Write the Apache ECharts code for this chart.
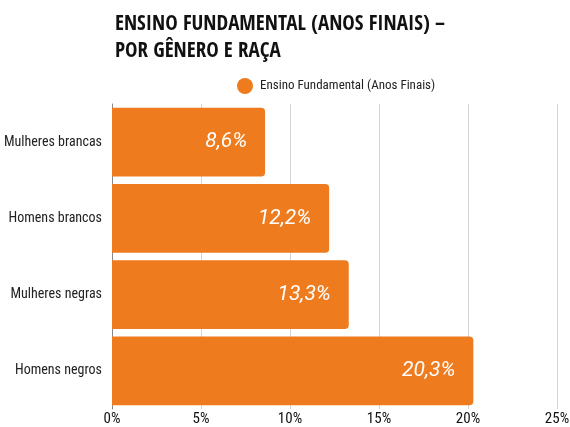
<!DOCTYPE html>
<html>
<head>
<meta charset="utf-8">
<script src="https://cdn.jsdelivr.net/npm/echarts@6/dist/echarts.min.js"></script>
<style>
html, body { margin: 0; padding: 0; background: #fff; }
#chart { width: 570px; height: 427px; }
</style>
</head>
<body>
<div id="chart"></div>
<script>
const categories = ['Mulheres brancas', 'Homens brancos', 'Mulheres negras', 'Homens negros']
const values = [8.6, 12.2, 13.3, 20.3]
const seriesName = 'Ensino Fundamental (Anos Finais)'
const xTicks = [0, 5, 10, 15, 20, 25]

const titleFont = '"Open Sans Condensed", "Roboto Condensed", sans-serif'
const narrow = '"Roboto Condensed", "Open Sans Condensed", sans-serif'

const chart = echarts.init(document.getElementById('chart'))
chart.setOption({
    animation: false,
    title: {
        text: 'ENSINO FUNDAMENTAL (ANOS FINAIS) –\nPOR GÊNERO E RAÇA',
        left: 110,
        top: 6,
        textStyle: {
            fontFamily: titleFont,
            fontWeight: 'bold',
            fontSize: 21,
            lineHeight: 27,
            color: '#111'
        }
    },
    legend: {
        data: [seriesName],
        left: 232,
        top: 73,
        icon: 'circle',
        itemWidth: 16,
        itemHeight: 16,
        itemGap: 6,
        textStyle: {
            fontFamily: narrow,
            fontSize: 13,
            color: '#222',
            padding: [0, 0, 0, 2]
        }
    },
    grid: {
        left: 112,
        right: 13,
        top: 104,
        bottom: 18,
        outerBoundsMode: 'none'
    },
    xAxis: {
        type: 'value',
        min: xTicks[0],
        max: xTicks[xTicks.length - 1],
        interval: 5,
        axisLine: { show: false },
        axisTick: { show: false },
        splitLine: { lineStyle: { color: '#d4d4d4', width: 1 } },
        axisLabel: {
            formatter: '{value}%',
            fontFamily: narrow,
            fontSize: 15,
            color: '#111',
            margin: 3
        }
    },
    yAxis: {
        type: 'category',
        inverse: true,
        data: categories,
        axisLine: { show: true, lineStyle: { color: '#888' } },
        axisTick: { show: false },
        axisLabel: {
            fontFamily: narrow,
            fontSize: 14,
            color: '#222',
            margin: 10
        }
    },
    series: [{
        name: seriesName,
        type: 'bar',
        data: values,
        barCategoryGap: '10%',
        itemStyle: {
            color: '#EE7B1E',
            borderRadius: [0, 4, 4, 0]
        },
        label: {
            show: true,
            position: 'insideRight',
            distance: 18,
            formatter: p => String(p.value).replace('.', ',') + '%',
            fontFamily: '"Roboto", sans-serif',
            fontStyle: 'italic',
            fontSize: 21,
            color: '#fff'
        }
    }]
})
</script>
</body>
</html>
